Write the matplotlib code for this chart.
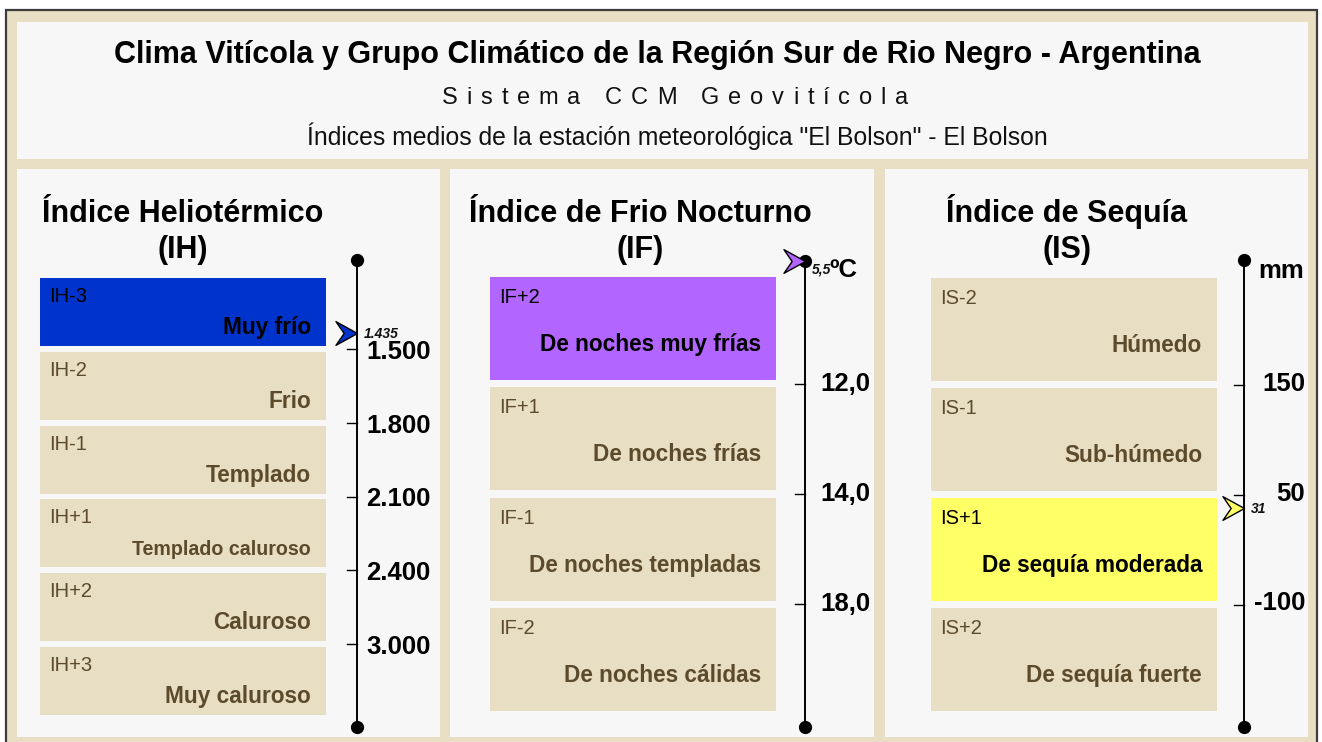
import numpy as np
import matplotlib
matplotlib.use("Agg")
import matplotlib.pyplot as plt
from matplotlib.patches import Rectangle
from matplotlib.path import Path
from matplotlib import font_manager

plt.rcParams['font.family'] = ['Liberation Sans', 'DejaVu Sans']

# ---------------- data ----------------
title = "Clima Vitícola y Grupo Climático de la Región Sur de Rio Negro - Argentina"
subtitle = "Sistema CCM Geovitícola"
station_line = 'Índices medios de la estación meteorológica "El Bolson" - El Bolson'

ih_title = ["Índice Heliotérmico", "(IH)"]
ih_codes = ["IH-3", "IH-2", "IH-1", "IH+1", "IH+2", "IH+3"]
ih_names = ["Muy frío", "Frio", "Templado", "Templado caluroso", "Caluroso", "Muy caluroso"]
ih_limits = [1.500, 1.800, 2.100, 2.400, 3.000]
ih_limit_labels = ["1.500", "1.800", "2.100", "2.400", "3.000"]
ih_value = 1.435
ih_value_label = "1.435"

if_title = ["Índice de Frio Nocturno", "(IF)"]
if_codes = ["IF+2", "IF+1", "IF-1", "IF-2"]
if_names = ["De noches muy frías", "De noches frías", "De noches templadas", "De noches cálidas"]
if_limits = [12.0, 14.0, 18.0]
if_limit_labels = ["12,0", "14,0", "18,0"]
if_value = 5.5
if_value_label = "5,5"
if_unit = "ºC"

is_title = ["Índice de Sequía", "(IS)"]
is_codes = ["IS-2", "IS-1", "IS+1", "IS+2"]
is_names = ["Húmedo", "Sub-húmedo", "De sequía moderada", "De sequía fuerte"]
is_limits = [150, 50, -100]
is_limit_labels = ["150", "50", "-100"]
is_value = 31
is_value_label = "31"
is_unit = "mm"

# ---------------- style ----------------
W, H, DPI = 1322, 742, 100
TAN = "#E8DEC4"
PANEL = "#F7F7F7"
BOX_TEXT = "#5B4B2C"
FRAME_EDGE = "#3C3C3C"

fig = plt.figure(figsize=(W / DPI, H / DPI), dpi=DPI, facecolor="white")


def fig_rect(x0, y0, x1, y1):
    """Pixel box (top-left origin) -> figure fraction rect."""
    return (x0 / W, 1 - y1 / H, (x1 - x0) / W, (y1 - y0) / H)


def fx(x):
    return x / W


def fy(y):
    return 1 - y / H


def add_bg(x0, y0, x1, y1, **kw):
    r = Rectangle(fig_rect(x0, y0, x1, y1)[:2], (x1 - x0) / W, (y1 - y0) / H,
                  transform=fig.transFigure, zorder=-10, **kw)
    fig.add_artist(r)


def advances(s, size, bold=False):
    fp = font_manager.FontProperties(family="Liberation Sans", size=size,
                                     weight="bold" if bold else "normal")
    font = font_manager.get_font(font_manager.findfont(fp))
    font.set_size(size, DPI)
    return [font.load_char(ord(ch)).linearHoriAdvance / 65536.0 for ch in s]


# frame and panels
add_bg(6, 10, 1317, 760, facecolor=TAN, edgecolor=FRAME_EDGE, linewidth=1.6)
add_bg(17, 22, 1308, 159, facecolor=PANEL, edgecolor="none")
add_bg(17, 169, 440, 737, facecolor=PANEL, edgecolor="none")
add_bg(450, 169, 874, 737, facecolor=PANEL, edgecolor="none")
add_bg(885, 169, 1308, 737, facecolor=PANEL, edgecolor="none")

# header
fig.text(fx(657), fy(63), title, ha="center", va="baseline",
         fontsize=22, fontweight="bold", color="black")


def tracked_text(s, xc, y_base, size, tracking_px, **kw):
    adv = advances(s, size)
    total = sum(adv) + tracking_px * (len(s) - 1)
    x = xc - total / 2
    for ch, a in zip(s, adv):
        if ch != " ":
            fig.text(fx(x), fy(y_base), ch, ha="left", va="baseline",
                     fontsize=size, family="Liberation Sans", **kw)
        x += a + tracking_px


tracked_text(subtitle, 675, 104, 17, 8.9, color="#111111")
fig.text(fx(677), fy(145), station_line, ha="center", va="baseline",
         fontsize=17.8, color="#111111")

# arrow marker: tip at the origin, pointing right
arrow = Path([(0, 0), (-1, 0.55), (-0.62, 0), (-1, -0.55), (0, 0)],
             [Path.MOVETO, Path.LINETO, Path.LINETO, Path.LINETO, Path.CLOSEPOLY])

NAME_SIZE = 16.3


def draw_panel(spec, head, codes, names, limits, limit_labels, value, value_label,
               hi_color, hi_text, unit=None):
    n = len(codes)
    pitch = spec["pitch"]

    def to_pos(ypx):
        return (ypx - spec["box_top"]) / pitch

    ax = fig.add_axes(fig_rect(spec["x0"], spec["dot_top"], spec["x1"], spec["dot_bot"]))
    ax.set_axis_off()
    ax.set_xlim(spec["x0"], spec["x1"])
    y_top, y_bot = to_pos(spec["dot_top"]), to_pos(spec["dot_bot"])
    ax.set_ylim(y_bot, y_top)

    hfrac = spec["box_h"] / pitch
    gap = 1 - hfrac
    bounds = np.arange(1, n) - gap / 2

    # position of the station value along the scale
    lim = np.asarray(limits, float)
    sign = 1.0 if lim[-1] > lim[0] else -1.0
    edges = np.concatenate([[lim[0] - (lim[1] - lim[0])], lim,
                            [lim[-1] + (lim[-1] - lim[-2])]]) * sign
    epos = np.concatenate([[-gap / 2], bounds, [n - gap / 2]])
    v = value * sign
    if v < edges[0]:
        p = epos[0] + (v - edges[0]) / (edges[1] - edges[0]) * (epos[1] - epos[0])
    elif v > edges[-1]:
        p = epos[-1] + (v - edges[-1]) / (edges[-1] - edges[-2]) * (epos[-1] - epos[-2])
    else:
        p = np.interp(v, edges, epos)
    p = float(np.clip(p, y_top, y_bot))
    cls = int(np.clip(np.floor(p + gap / 2), 0, n - 1))

    bx0, bx1 = spec["bx0"], spec["bx1"]
    for k in range(n):
        hit = k == cls
        ax.add_patch(Rectangle((bx0, k), bx1 - bx0, hfrac,
                               facecolor=hi_color if hit else TAN, edgecolor="none"))
        tc = hi_text if hit else BOX_TEXT
        ax.text(bx0 + 9, k + spec["code_dy"] / pitch, codes[k], ha="left",
                va="baseline", fontsize=14.5, color=tc)
        size = NAME_SIZE
        width = sum(advances(names[k], size, bold=True))
        if width > spec["name_max"]:
            size *= spec["name_max"] / width
        ax.text(bx1 - 15, k + spec["name_dy"] / pitch, names[k], ha="right",
                va="baseline", fontsize=size, fontweight="bold", color=tc)

    axx = spec["axis_x"]
    ax.plot([axx, axx], [y_top, y_bot], color="black", lw=1.4, marker="o",
            ms=8.5, clip_on=False, zorder=3)
    for b, lab in zip(bounds, limit_labels):
        ax.plot([axx - 10, axx], [b, b], color="black", lw=1.0, clip_on=False)
        ax.text(spec["lab_x"], b + spec["lab_dy"] / pitch, lab, ha=spec["lab_ha"],
                va="baseline", fontsize=18.5, fontweight="bold", color="black")

    ax.plot([axx], [p], marker=arrow, ms=31, mfc=hi_color, mec="black", mew=1.0,
            linestyle="none", clip_on=False, zorder=4)
    ax.text(axx + 7, p + spec["val_dy"] / pitch, value_label, ha="left", va="baseline",
            fontsize=10, fontweight="bold", fontstyle="italic", color="#111111")
    if unit:
        ax.text(spec["unit_x"], to_pos(spec["unit_base"]), unit, ha="left",
                va="baseline", fontsize=18.5, fontweight="bold", color="black")

    fig.text(fx(spec["title_cx"]), fy(222), head[0], ha="center", va="baseline",
             fontsize=22, fontweight="bold", color="black")
    fig.text(fx(spec["title_cx"]), fy(258), head[1], ha="center", va="baseline",
             fontsize=22, fontweight="bold", color="black")


left_spec = dict(x0=17, x1=440, bx0=40, bx1=326, axis_x=357, box_top=278, pitch=73.8,
                 box_h=68, dot_top=260, dot_bot=727, code_dy=24, name_dy=56,
                 name_max=180, lab_x=366, lab_ha="left", lab_dy=10, val_dy=5,
                 title_cx=183)
mid_spec = dict(x0=450, x1=874, bx0=490, bx1=776, axis_x=805, box_top=277, pitch=110.3,
                box_h=103, dot_top=261, dot_bot=727, code_dy=26, name_dy=74,
                name_max=250, lab_x=820, lab_ha="left", lab_dy=7, val_dy=12,
                title_cx=640, unit_x=829, unit_base=277)
right_spec = dict(x0=885, x1=1308, bx0=931, bx1=1217, axis_x=1244, box_top=278, pitch=110,
                  box_h=103, dot_top=260, dot_bot=727, code_dy=26, name_dy=74,
                  name_max=250, lab_x=1305, lab_ha="right", lab_dy=6, val_dy=5,
                  title_cx=1067, unit_x=1258, unit_base=278)

draw_panel(left_spec, ih_title, ih_codes, ih_names, ih_limits, ih_limit_labels,
           ih_value, ih_value_label, "#0033CC", "black")
draw_panel(mid_spec, if_title, if_codes, if_names, if_limits, if_limit_labels,
           if_value, if_value_label, "#B266FF", "black", unit=if_unit)
draw_panel(right_spec, is_title, is_codes, is_names, is_limits, is_limit_labels,
           is_value, is_value_label, "#FFFF66", "black", unit=is_unit)

fig.savefig("out.png", dpi=DPI, facecolor="white")
